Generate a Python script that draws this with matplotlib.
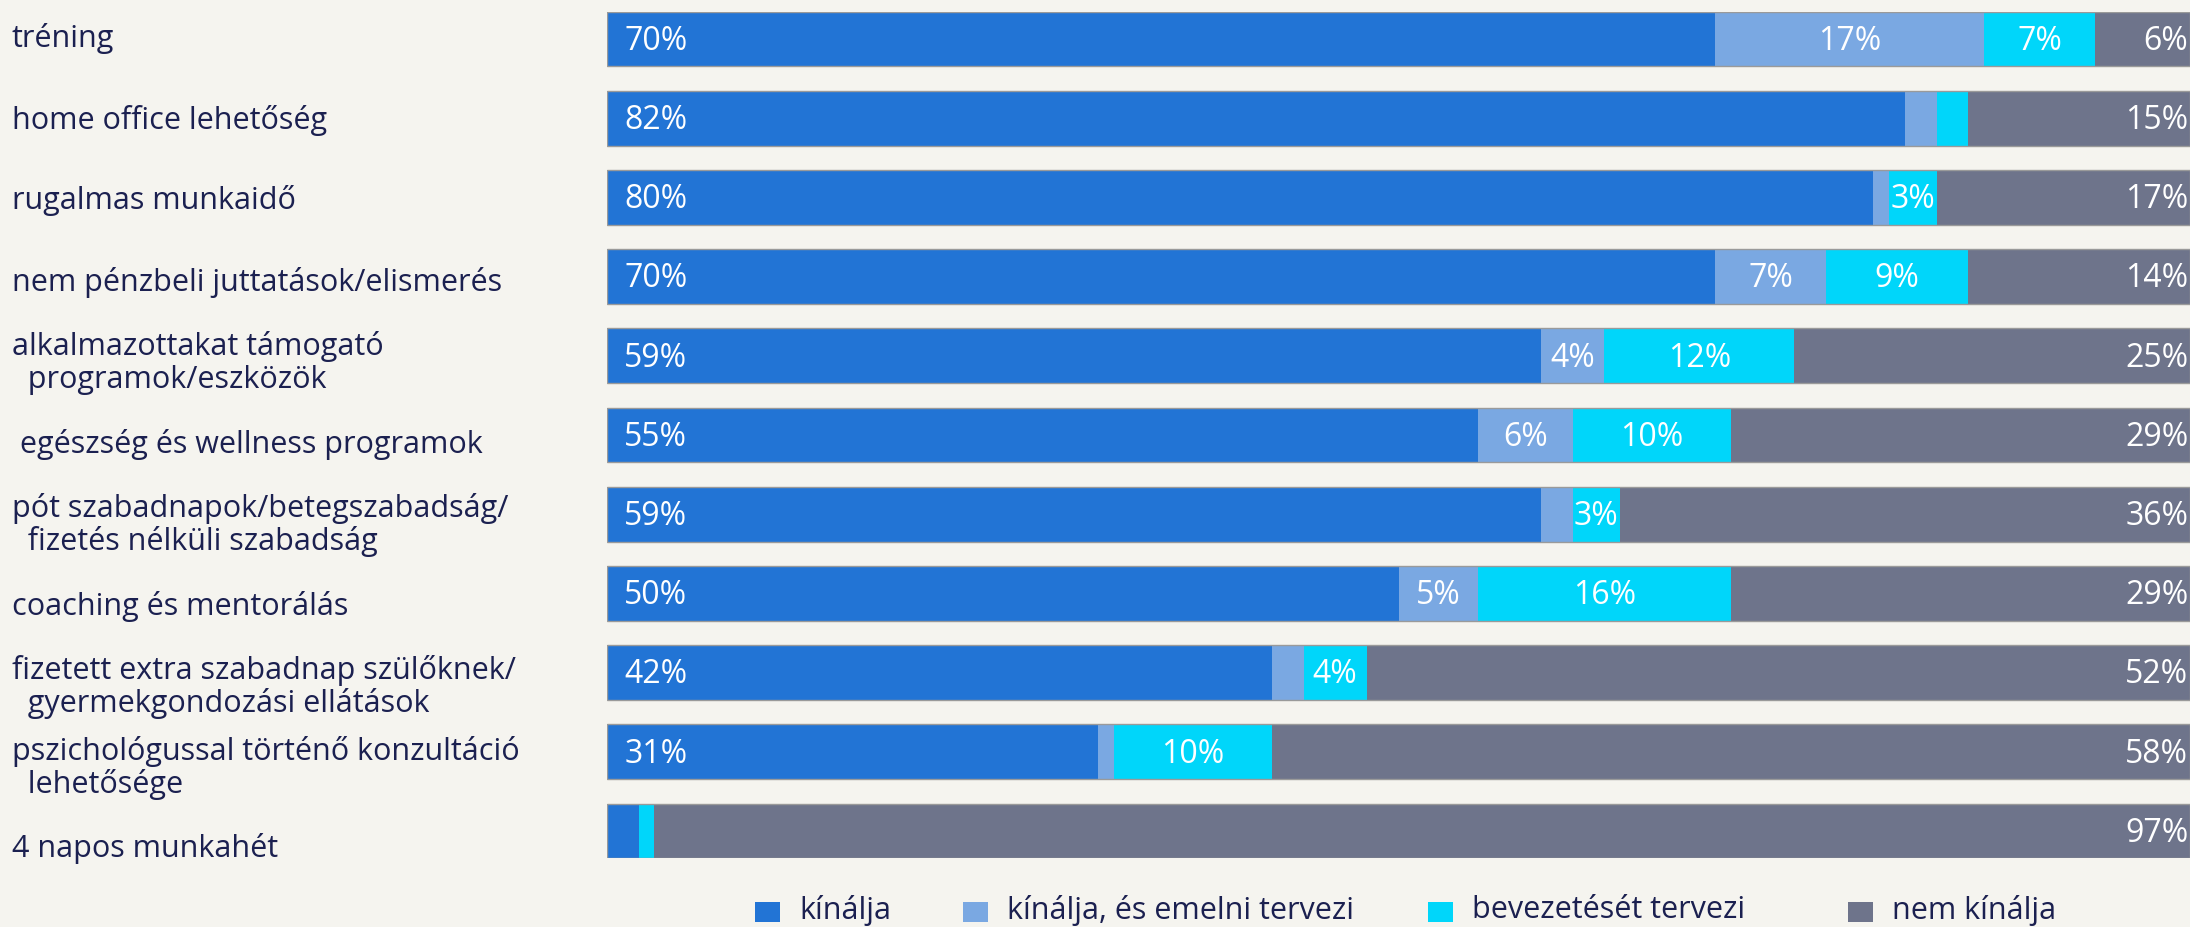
import matplotlib
matplotlib.use("Agg")
import matplotlib.pyplot as plt
from matplotlib.patches import Rectangle

plt.rcParams["font.family"] = ["Open Sans", "DejaVu Sans"]

categories = [
    "tréning",
    "home office lehetőség",
    "rugalmas munkaidő",
    "nem pénzbeli juttatások/elismerés",
    "alkalmazottakat támogató\n  programok/eszközök",
    " egészség és wellness programok",
    "pót szabadnapok/betegszabadság/\n  fizetés nélküli szabadság",
    "coaching és mentorálás",
    "fizetett extra szabadnap szülőknek/\n  gyermekgondozási ellátások",
    "pszichológussal történő konzultáció\n  lehetősége",
    "4 napos munkahét",
]

series_names = ["kínálja", "kínálja, és emelni tervezi", "bevezetését tervezi", "nem kínálja"]
offers = [70, 82, 80, 70, 59, 55, 59, 50, 42, 31, 2]
offers_raise = [17, 2, 1, 7, 4, 6, 2, 5, 2, 1, 0]
plans = [7, 2, 3, 9, 12, 10, 3, 16, 4, 10, 1]
not_offered = [6, 15, 17, 14, 25, 29, 36, 29, 52, 58, 97]

# which segments carry a value label
show_offers = [True, True, True, True, True, True, True, True, True, True, False]
show_raise = [True, False, False, True, True, True, False, True, False, False, False]
show_plans = [True, False, True, True, True, True, True, True, True, True, False]

colors = ["#2274D5", "#7AA8E2", "#00D6FA", "#6E748B"]
bg = "#F5F4EF"
label_color = "#1B2050"

W, H = 2190, 927
fig = plt.figure(figsize=(W / 100, H / 100), dpi=100, facecolor=bg)
ax_left, ax_right = 607 / W, 1.0
ax_top_px, ax_bot_px = 11.7, 858.3
ax = fig.add_axes([ax_left, 1 - ax_bot_px / H, ax_right - ax_left, (ax_bot_px - ax_top_px) / H])
ax.set_facecolor(bg)

bar_h = 0.69
y = list(range(len(categories)))
series = [offers, offers_raise, plans, not_offered]
left = [0] * len(categories)
for vals, col in zip(series, colors):
    ax.barh(y, vals, left=left, height=bar_h, color=col, linewidth=0)
    left = [l + v for l, v in zip(left, vals)]

# thin outline around each full bar
ax.barh(y, [100] * len(y), height=bar_h, facecolor="none", edgecolor="#9A9A9A", linewidth=1.0)

ax.set_xlim(0, 100)
ax.set_ylim(len(categories) - 1 + bar_h / 2, -bar_h / 2)
ax.axis("off")

fs_val = 23
fs_lab = 22
dy = 0.03  # nudge value labels to sit visually centred in the bar
for i in y:
    o, r, p, n = offers[i], offers_raise[i], plans[i], not_offered[i]
    yt = i + dy
    if show_offers[i]:
        ax.text(1.1, yt, f"{o}%", ha="left", va="center", color="white", fontsize=fs_val)
    if show_raise[i]:
        ax.text(o + r / 2, yt, f"{r}%", ha="center", va="center", color="white", fontsize=fs_val)
    if show_plans[i]:
        ax.text(o + r + p / 2, yt, f"{p}%", ha="center", va="center", color="white", fontsize=fs_val)
    ax.text(99.9, yt, f"{n}%", ha="right", va="center", color="white", fontsize=fs_val)

# category labels on the left
for i, cat in enumerate(categories):
    yc = 39 + 81 * i
    fig.text(12 / W, 1 - yc / H, cat, ha="left", va="center", color=label_color,
             fontsize=fs_lab, linespacing=1.1)

# legend along the bottom
leg_sq = [755, 963, 1428, 1848]
leg_y = 912
for x0, name, col in zip(leg_sq, series_names, colors):
    fig.patches.append(Rectangle((x0 / W, 1 - (leg_y + 10) / H), 25 / W, 20 / H,
                                 transform=fig.transFigure, facecolor=col, edgecolor="none"))
    fig.text((x0 + 44) / W, 1 - (leg_y - 2) / H, name, ha="left", va="center",
             color=label_color, fontsize=fs_lab)

fig.savefig("out.png", dpi=100, facecolor=bg)
